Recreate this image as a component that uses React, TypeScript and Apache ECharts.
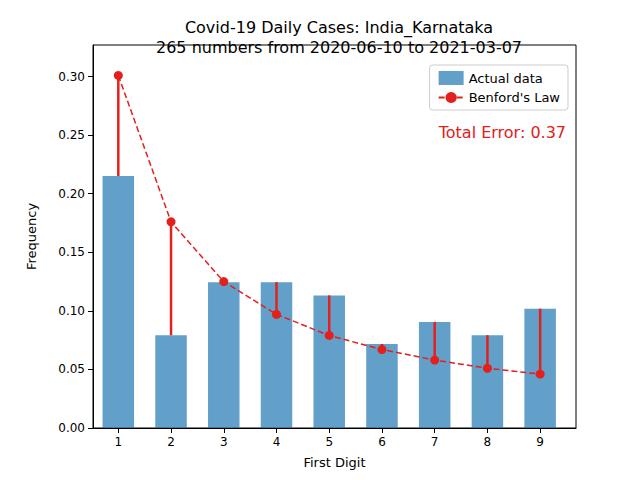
import { useEffect, useRef } from 'react';
import * as echarts from 'echarts';

const digits = [1, 2, 3, 4, 5, 6, 7, 8, 9];
const counts = [57, 21, 33, 33, 30, 19, 24, 21, 27];
const total = 265;
const actual = counts.map(c => c / total);
const benford = [0.301, 0.176, 0.125, 0.097, 0.079, 0.067, 0.058, 0.051, 0.046];
const yTicks = [0, 0.05, 0.1, 0.15, 0.2, 0.25, 0.3];

const RED = '#e3201b';
const FONT = 'DejaVu Sans';

export default function App() {
  const ref = useRef<HTMLDivElement>(null);

  useEffect(() => {
    if (!ref.current) return;
    const chart = echarts.init(ref.current, null, { renderer: 'svg' });
    chart.setOption({
      animation: false,
      textStyle: { fontFamily: FONT },
      title: {
        text: 'Covid-19 Daily Cases: India_Karnataka\n265 numbers from 2020-06-10 to 2021-03-07',
        left: 334, top: 12, textAlign: 'center',
        textStyle: { fontSize: 16, fontWeight: 'normal', color: '#000', lineHeight: 20, fontFamily: FONT },
      },
      grid: { left: 93, right: 64, top: 45, bottom: 52 },
      legend: {
        right: 72, top: 65, orient: 'vertical', itemGap: 6,
        backgroundColor: '#fff', borderColor: '#ccc', borderWidth: 1, borderRadius: 3, padding: [6, 8],
        textStyle: { fontSize: 13, color: '#000' },
        data: [
          { name: 'Actual data', icon: 'rect' },
          { name: "Benford's Law" },
        ],
      },
      xAxis: {
        type: 'value', min: 0.52, max: 9.68, interval: 1,
        name: 'First Digit', nameLocation: 'middle', nameGap: 28,
        nameTextStyle: { fontSize: 13, color: '#000' },
        axisLine: { onZero: false, lineStyle: { color: '#000' } },
        axisTick: { show: true, customValues: digits, lineStyle: { color: '#000' } },
        axisLabel: { customValues: digits, color: '#000', fontSize: 12 },
        splitLine: { show: false },
      },
      yAxis: {
        type: 'value', min: 0, max: 0.327, interval: 0.05,
        name: 'Frequency', nameLocation: 'middle', nameGap: 55,
        nameTextStyle: { fontSize: 13, color: '#000' },
        axisLine: { show: true, lineStyle: { color: '#000' } },
        axisTick: { show: true, customValues: yTicks, lineStyle: { color: '#000' } },
        axisLabel: { customValues: yTicks, color: '#000', fontSize: 12, formatter: (v: number) => v.toFixed(2) },
        splitLine: { show: false },
      },
      graphic: [
        {
          type: 'rect', shape: { x: 93, y: 45, width: 483, height: 383 }, silent: true, z: 0,
          style: { fill: 'none', stroke: '#000', lineWidth: 1 },
        },
        {
          type: 'text', right: 74, top: 124, z: 10,
          style: { text: 'Total Error: 0.37', fill: RED, fontSize: 16, fontFamily: FONT },
        },
      ],
      series: [
        {
          name: 'Actual data', type: 'bar', barWidth: 31.5,
          itemStyle: { color: 'rgba(31,119,180,0.7)' },
          data: digits.map((d, i) => [d, actual[i]]),
        },
        {
          name: "Benford's Law", type: 'line',
          data: digits.map((d, i) => [d, benford[i]]),
          lineStyle: { color: RED, type: [6, 3], width: 1.5 },
          itemStyle: { color: RED },
          symbol: 'circle', symbolSize: 9, z: 5,
        },
        {
          type: 'custom', z: 4,
          data: digits.map((d, i) => [d, benford[i], actual[i]]),
          renderItem: (params: any, api: any) => {
            const a = api.coord([api.value(0), api.value(1)]);
            const b = api.coord([api.value(0), api.value(2)]);
            return {
              type: 'line',
              shape: { x1: a[0], y1: a[1], x2: b[0], y2: b[1] },
              style: { stroke: RED, lineWidth: 2.5 },
            };
          },
        },
      ],
    });
    return () => chart.dispose();
  }, []);

  return <div ref={ref} style={{ width: 640, height: 480, margin: -8 }} />;
}
